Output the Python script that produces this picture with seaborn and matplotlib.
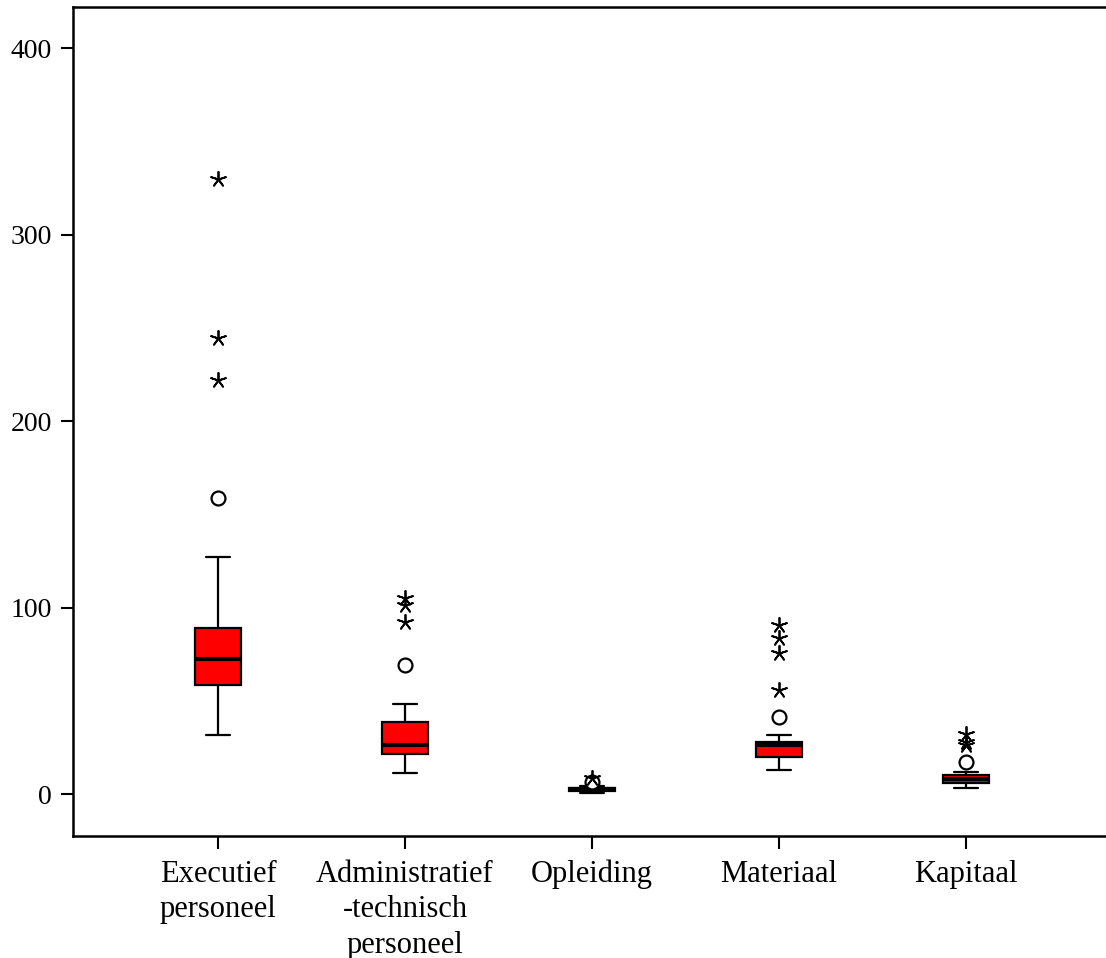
import numpy as np
import pandas as pd
import matplotlib
matplotlib.use("Agg")
import matplotlib.pyplot as plt
import seaborn as sns

# Categories (tick labels) and box statistics
categories = ["Executief\npersoneel", "Administratief\n-technisch\npersoneel",
              "Opleiding", "Materiaal", "Kapitaal"]
whisker_low = [31.6, 11.2, 0.8, 12.9, 3.0]
q1 = [58.4, 21.4, 1.8, 20.0, 5.7]
median = [72.4, 26.3, 2.6, 26.3, 8.0]
q3 = [89.0, 38.5, 3.4, 28.0, 10.2]
whisker_high = [127.0, 48.3, 4.5, 31.6, 11.6]

# Outliers (circles) and extreme values (stars)
outlier_cat = [categories[0], categories[1], categories[2], categories[3], categories[4]]
outlier_val = [158.7, 69.2, 6.5, 41.5, 17.3]
extreme_cat = [categories[0], categories[0], categories[0],
               categories[1], categories[1], categories[1],
               categories[2],
               categories[3], categories[3], categories[3], categories[3],
               categories[4], categories[4], categories[4]]
extreme_val = [330.0, 244.5, 222.0,
               105.0, 101.3, 92.3,
               8.8,
               90.6, 83.5, 75.4, 55.8,
               32.2, 28.0, 26.3]

yticks = [0, 100, 200, 300, 400]

# Long-format table: five values per category reproduce the box statistics
rows = []
for i, c in enumerate(categories):
    for v in (whisker_low[i], q1[i], median[i], q3[i], whisker_high[i]):
        rows.append({"cat": c, "val": v})
box_df = pd.DataFrame(rows)
out_df = pd.DataFrame({"cat": outlier_cat, "val": outlier_val})
ext_df = pd.DataFrame({"cat": extreme_cat, "val": extreme_val})

sns.set_style("ticks")
plt.rcParams["font.family"] = ["Liberation Serif", "DejaVu Serif"]

W, H = 1106, 958
fig = plt.figure(figsize=(W / 100, H / 100), dpi=100)
ax_left, ax_right, ax_top, ax_bottom = 73, 1128, 7, 836
ax = fig.add_axes([ax_left / W, 1 - ax_bottom / H,
                   (ax_right - ax_left) / W, (ax_bottom - ax_top) / H])

sns.boxplot(data=box_df, x="cat", y="val", order=categories, ax=ax,
            color="#ff0000", saturation=1, width=0.25, whis=(0, 100),
            linecolor="black", linewidth=1.6, showfliers=False,
            medianprops={"linewidth": 3, "color": "black"})

sns.stripplot(data=out_df, x="cat", y="val", order=categories, ax=ax,
              jitter=False, marker="o", size=10, color="white",
              edgecolor="black", linewidth=1.6, zorder=5)
sns.stripplot(data=ext_df, x="cat", y="val", order=categories, ax=ax,
              jitter=False, marker=(5, 2, 0), size=11, color="black",
              linewidth=1.3, zorder=5)

ax.set_xlim(-0.775, 4.866)
ax.set_ylim(-22.5, 422)
ax.set_yticks(yticks)
ax.set_yticklabels([str(t) for t in yticks])
ax.set_xticks(range(len(categories)))
ax.set_xticklabels(categories, fontsize=22, linespacing=1.3,
                   ha="center", multialignment="center")
ax.set_xlabel("")
ax.set_ylabel("")

for side in ("left", "bottom", "top"):
    ax.spines[side].set_visible(True)
    ax.spines[side].set_linewidth(1.8)
    ax.spines[side].set_color("black")
ax.spines["right"].set_visible(False)

ax.tick_params(axis="both", direction="out", length=9, width=1.5,
               color="black", labelcolor="black")
ax.tick_params(axis="y", labelsize=20, pad=6)
ax.tick_params(axis="x", pad=8)

fig.savefig("out.png", dpi=100, facecolor="white")
